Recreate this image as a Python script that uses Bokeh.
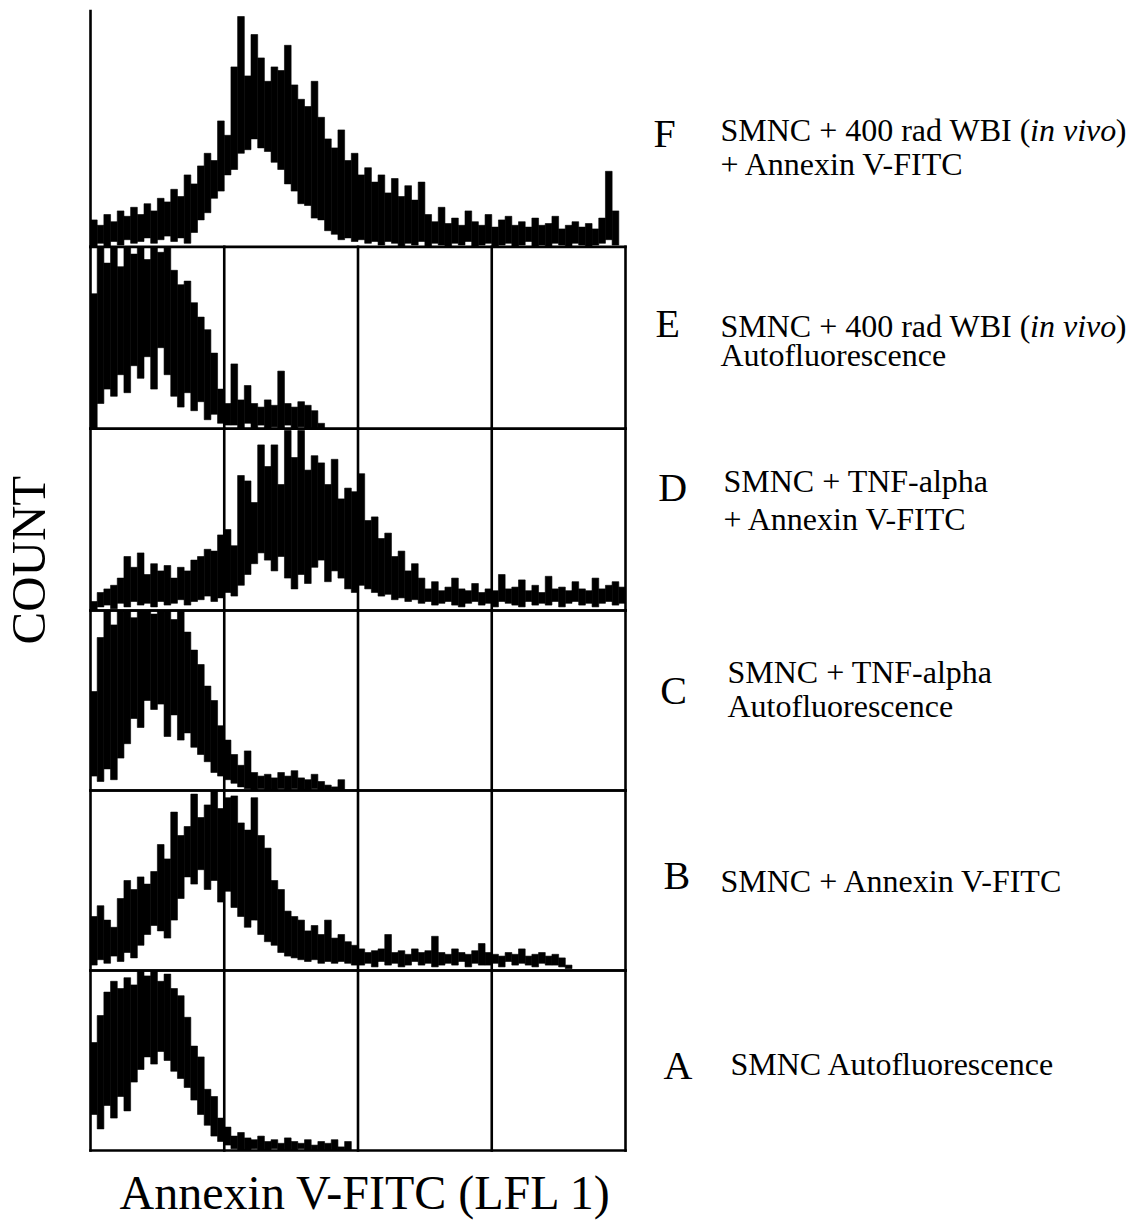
import numpy as np
from bokeh.plotting import figure
from bokeh.models import Range1d, ColumnDataSource
from bokeh.core.properties import value
from bokeh.embed import file_html
from bokeh.resources import INLINE

# ---------------- data (counts per bin; 80 bins = 4 log decades) -------------
# each histogram is drawn as a band between the lower (lo) and upper (hi) envelope of the noisy trace
A_hi = [60, 75, 88, 94, 90, 96, 92, 100, 97, 100, 94, 98, 90, 86, 74, 58, 52, 34, 30, 18,
        13, 8, 10, 7, 6, 8, 5, 6, 4, 7, 5, 4, 6, 3, 5, 4, 6, 2, 5]
A_lo = [20, 12, 25, 18, 30, 22, 38, 45, 52, 48, 55, 50, 44, 40, 35, 28, 20, 14, 8, 5,
        3, 1, 0, 0, 1, 0, 0, 1, 0, 0, 0, 1, 0, 0, 0, 0, 0, 0, 0]

B_hi = [30, 36, 28, 24, 40, 50, 45, 52, 48, 55, 70, 62, 88, 75, 80, 98, 85, 92, 100, 90,
        96, 97, 82, 78, 96, 75, 68, 50, 45, 33, 30, 28, 22, 25, 20, 28, 18, 20, 16, 14,
        12, 10, 11, 12, 20, 10, 11, 9, 12, 10, 11, 19, 10, 9, 12, 10, 9, 11, 15, 10,
        9, 8, 10, 9, 12, 8, 9, 10, 8, 9, 7, 3]
B_lo = [3, 6, 4, 8, 5, 10, 7, 14, 20, 25, 22, 18, 28, 40, 52, 48, 56, 45, 50, 38,
        44, 35, 30, 24, 28, 20, 16, 14, 10, 8, 7, 6, 5, 6, 4, 5, 4, 5, 4, 3,
        3, 4, 2, 5, 3, 4, 2, 3, 5, 3, 4, 2, 3, 4, 3, 5, 2, 4, 3, 3,
        4, 2, 5, 3, 4, 3, 2, 4, 3, 3, 2, 1]

C_hi = [55, 85, 100, 92, 100, 100, 96, 100, 100, 98, 100, 100, 95, 100, 88, 78, 70, 58, 50, 36,
        28, 20, 14, 22, 10, 8, 9, 7, 10, 8, 11, 7, 6, 9, 5, 3, 2, 6, 0]
C_lo = [8, 5, 12, 6, 18, 26, 40, 35, 50, 45, 48, 30, 42, 28, 32, 24, 20, 16, 10, 8,
        6, 4, 2, 1, 0, 1, 0, 0, 1, 0, 1, 0, 0, 1, 0, 0, 0, 0, 0]

D_hi = [5, 10, 12, 14, 18, 30, 24, 32, 20, 26, 22, 25, 18, 24, 22, 28, 30, 34, 33, 42,
        45, 36, 75, 72, 60, 92, 80, 92, 70, 100, 85, 100, 78, 86, 82, 70, 84, 62, 68, 66,
        76, 50, 52, 40, 43, 30, 33, 22, 26, 18, 12, 16, 11, 13, 18, 12, 11, 15, 10, 12,
        11, 20, 12, 13, 17, 11, 14, 10, 19, 12, 13, 11, 16, 12, 11, 18, 12, 14, 16, 13]
D_lo = [0, 2, 3, 1, 4, 2, 5, 3, 4, 2, 5, 3, 4, 6, 3, 5, 6, 8, 5, 7,
        10, 8, 14, 20, 26, 32, 28, 22, 30, 18, 12, 20, 15, 24, 28, 16, 22, 18, 12, 10,
        14, 12, 10, 8, 9, 6, 7, 5, 6, 4, 5, 3, 4, 5, 3, 2, 4, 5, 3, 4,
        2, 5, 4, 3, 2, 5, 3, 4, 3, 5, 2, 4, 5, 3, 4, 2, 4, 5, 3, 4]

E_hi = [75, 101, 92, 101, 90, 101, 97, 101, 94, 101, 98, 101, 88, 80, 82, 70, 62, 55, 42, 22,
        14, 36, 16, 24, 14, 12, 16, 13, 32, 14, 12, 15, 13, 10, 3]
E_lo = [0, 14, 22, 18, 30, 20, 35, 28, 40, 22, 45, 30, 18, 12, 20, 10, 15, 5, 8, 3,
        2, 2, 0, 3, 0, 2, 0, 1, 0, 2, 0, 1, 0, 0, 0]

F_hi = [15, 12, 18, 14, 20, 17, 22, 18, 24, 20, 27, 25, 32, 28, 40, 35, 45, 52, 48, 70,
        62, 100, 128, 95, 118, 105, 92, 100, 98, 112, 90, 82, 78, 92, 72, 60, 55, 65, 48, 52,
        40, 44, 36, 40, 30, 38, 28, 34, 26, 36, 18, 14, 22, 13, 16, 12, 20, 14, 12, 18,
        11, 15, 17, 12, 14, 11, 16, 12, 13, 17, 10, 12, 14, 11, 13, 10, 16, 42, 20, 0]
F_lo = [0, 2, 0, 3, 1, 4, 2, 3, 5, 2, 4, 6, 3, 5, 2, 8, 15, 19, 27, 31,
        40, 43, 52, 54, 60, 55, 53, 47, 43, 35, 31, 24, 23, 16, 15, 9, 7, 4, 5, 3,
        4, 2, 3, 1, 3, 2, 0, 2, 1, 3, 0, 2, 1, 0, 2, 1, 3, 0, 1, 2,
        0, 1, 2, 0, 1, 3, 0, 1, 0, 2, 1, 0, 2, 1, 0, 1, 2, 4, 1, 0]

panel_order = ["A", "B", "C", "D", "E", "F"]
panel_data = {"A": (A_lo, A_hi), "B": (B_lo, B_hi), "C": (C_lo, C_hi),
              "D": (D_lo, D_hi), "E": (E_lo, E_hi), "F": (F_lo, F_hi)}

x_title = "Annexin V-FITC (LFL 1)"
y_title = "COUNT"

# ---------------- layout ----------------
offsets = {"A": 0, "B": 100, "C": 200, "D": 300, "E": 401, "F": 502}
AXIS_TOP = 633
N_BINS = 80
DECADES = [0, 20, 40, 60, 80]

W, H = 1140, 1220
PXB = 6.6875   # px per bin
PXU = 1.8      # px per count unit
x0 = -90 / PXB
y0 = -(H - 1150) / PXU

p = figure(width=W, height=H,
           x_range=Range1d(x0, x0 + W / PXB), y_range=Range1d(y0, y0 + H / PXU),
           output_backend="svg", toolbar_location=None,
           x_axis_location=None, y_axis_location=None, min_border=0)
p.xgrid.visible = False
p.ygrid.visible = False
p.outline_line_color = None

# histogram bands
xs, bots, tops = [], [], []
for name in panel_order:
    lo, hi = panel_data[name]
    off = offsets[name]
    for i, (l, h) in enumerate(zip(lo, hi)):
        if h <= 0:
            continue
        xs.append(i + 0.5)
        bots.append(off + l)
        tops.append(off + h)
src = ColumnDataSource(dict(x=xs, bottom=bots, top=tops))
p.vbar(x="x", width=1.0, bottom="bottom", top="top", source=src,
       fill_color="black", line_color="black", line_width=0.6)

# boxes and decade lines
sx0, sy0, sx1, sy1 = [], [], [], []
for k in range(5):
    b = offsets[panel_order[k]]
    t = offsets[panel_order[k + 1]]
    for d in DECADES:
        sx0.append(d); sy0.append(b); sx1.append(d); sy1.append(t)
    for yy in (b, t):
        sx0.append(0); sy0.append(yy); sx1.append(N_BINS); sy1.append(yy)
sx0.append(0); sy0.append(offsets["F"]); sx1.append(0); sy1.append(AXIS_TOP)
p.segment(x0=sx0, y0=sy0, x1=sx1, y1=sy1, line_color="black", line_width=2.6, line_cap="square")

FONT = value("Liberation Serif")

# axis titles
p.text(x=[-9.3], y=[328.0], text=[y_title], angle=np.pi / 2, text_font=FONT,
       text_font_size="49px", text_align="center", text_baseline="middle", text_color="black")
p.text(x=[41.2], y=[-23.3], text=[x_title], text_font=FONT,
       text_font_size="48px", text_align="center", text_baseline="middle", text_color="black")

# panel letters
letter_x = [85.7, 85.7, 85.2, 84.9, 84.5, 84.2]
letter_y = [47.2, 152.8, 255.6, 368.3, 459.4, 565.0]
p.text(x=letter_x, y=letter_y, text=panel_order, text_font=FONT, text_font_size="40px",
       text_align="left", text_baseline="middle", text_color="black")

# captions (normal)
cap_x = [95.7, 94.2, 95.25, 95.25, 94.65, 94.65, 94.2, 94.2, 94.2, 94.2]
cap_y = [48.3, 150.0, 265.6, 246.7, 372.2, 351.1, 458.3, 441.7, 566.7, 548.3]
cap_t = ["SMNC Autofluorescence", "SMNC + Annexin V-FITC",
         "SMNC + TNF-alpha", "Autofluorescence",
         "SMNC + TNF-alpha", "+ Annexin V-FITC",
         "SMNC + 400 rad WBI (", "Autofluorescence",
         "SMNC + 400 rad WBI (", "+ Annexin V-FITC"]
p.text(x=cap_x, y=cap_y, text=cap_t, text_font=FONT, text_font_size="32px",
       text_align="left", text_baseline="middle", text_color="black")
# italic parts
p.text(x=[140.5, 140.5], y=[458.3, 566.7], text=["in vivo", "in vivo"], text_font=FONT,
       text_font_style="italic", text_font_size="32px",
       text_align="left", text_baseline="middle", text_color="black")
p.text(x=[153.3, 153.3], y=[458.3, 566.7], text=[")", ")"], text_font=FONT, text_font_size="32px",
       text_align="left", text_baseline="middle", text_color="black")

open("out.html", "w").write(file_html(p, INLINE))
